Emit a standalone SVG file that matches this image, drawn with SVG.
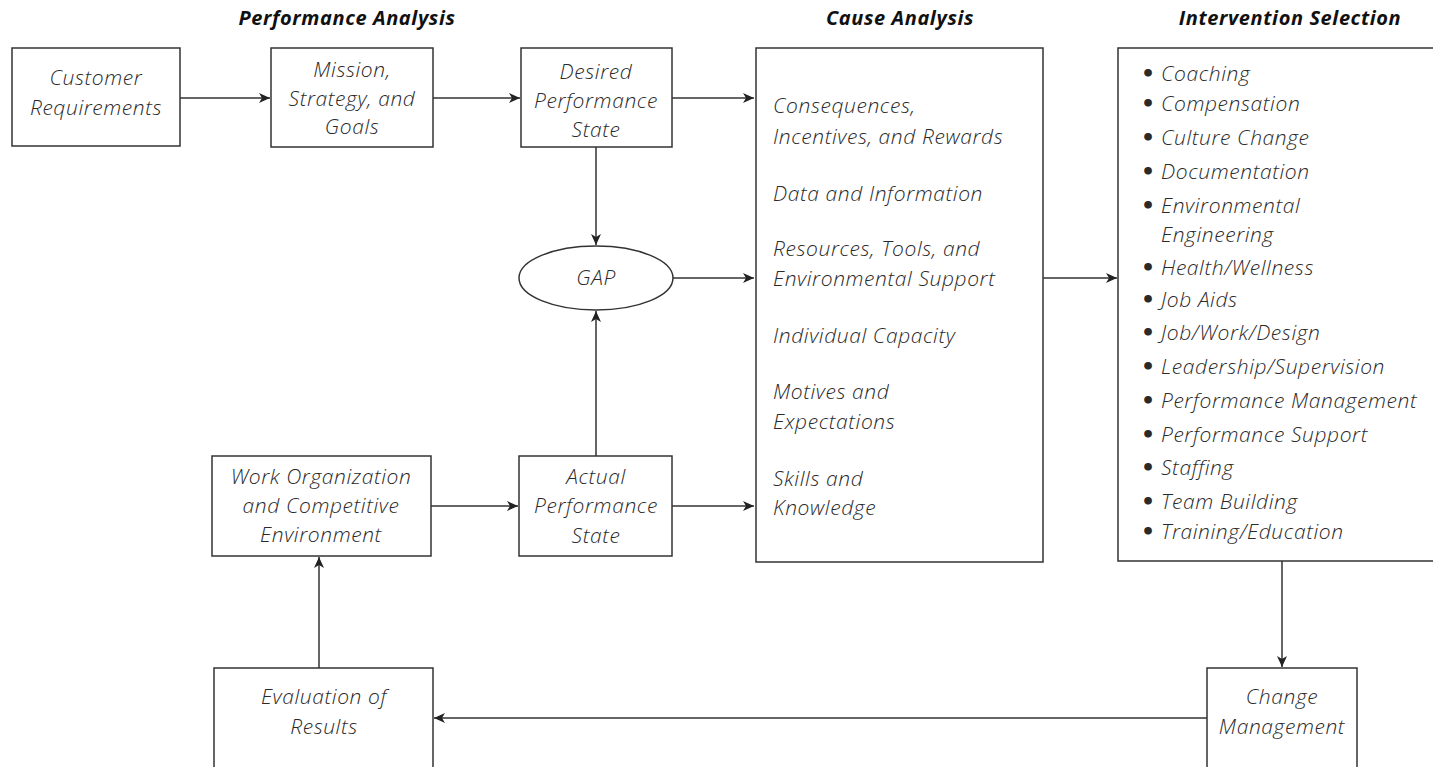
<svg xmlns="http://www.w3.org/2000/svg" width="1433" height="767" viewBox="0 0 1433 767">
<style>
.box{fill:#fff;stroke:#333;stroke-width:1.5}
.t{font-family:"Open Sans","Liberation Sans",sans-serif;font-style:italic;font-weight:300;font-size:21px;letter-spacing:0.6px;fill:#2a2a2a}
.c{text-anchor:middle}
.h{font-family:"Open Sans","Liberation Sans",sans-serif;font-style:italic;font-weight:bold;font-size:20px;letter-spacing:0.6px;fill:#111;text-anchor:middle}
.ln{stroke:#333;stroke-width:1.5;fill:none}
.arr{marker-end:url(#ah)}
.b{font-family:"DejaVu Sans",sans-serif;font-style:normal;font-weight:bold;font-size:22px}
</style>
<defs>
<marker id="ah" markerWidth="12" markerHeight="10" refX="11" refY="5" orient="auto" markerUnits="userSpaceOnUse">
<path d="M0,0 L11,5 L0,10 L3,5 Z" fill="#222"/>
</marker>
</defs>
<g id="titles">
<text class="h" x="347" y="25">Performance Analysis</text>
<text class="h" x="900" y="25">Cause Analysis</text>
<text class="h" x="1290" y="25">Intervention Selection</text>
</g>
<g id="connectors">
<line class="ln arr" x1="180" y1="98" x2="270" y2="98"/>
<line class="ln arr" x1="433" y1="98" x2="520" y2="98"/>
<line class="ln arr" x1="672" y1="98" x2="754" y2="98"/>
<line class="ln arr" x1="596" y1="147" x2="596" y2="245"/>
<line class="ln arr" x1="673" y1="278" x2="754" y2="278"/>
<line class="ln arr" x1="596" y1="456" x2="596" y2="311"/>
<line class="ln arr" x1="431" y1="506" x2="518" y2="506"/>
<line class="ln arr" x1="672" y1="506" x2="754" y2="506"/>
<line class="ln arr" x1="1043" y1="278" x2="1117" y2="278"/>
<line class="ln arr" x1="1282" y1="561" x2="1282" y2="667"/>
<line class="ln arr" x1="1207" y1="718" x2="434" y2="718"/>
<line class="ln arr" x1="319" y1="668" x2="319" y2="557"/>
</g>
<g id="customer">
<rect class="box" x="12" y="48" width="168" height="98"/>
<text class="t c" x="96" y="85">Customer</text>
<text class="t c" x="96" y="115">Requirements</text>
</g>
<g id="mission">
<rect class="box" x="271" y="48" width="162" height="99"/>
<text class="t c" x="352" y="77">Mission,</text>
<text class="t c" x="352" y="106">Strategy, and</text>
<text class="t c" x="352" y="134">Goals</text>
</g>
<g id="desired">
<rect class="box" x="521" y="48" width="151" height="99"/>
<text class="t c" x="596" y="79">Desired</text>
<text class="t c" x="596" y="108">Performance</text>
<text class="t c" x="596" y="137">State</text>
</g>
<g id="gap">
<ellipse class="box" cx="596" cy="278" rx="77" ry="32"/>
<text class="t c" x="596" y="285">GAP</text>
</g>
<g id="work-org">
<rect class="box" x="212" y="456" width="219" height="100"/>
<text class="t c" x="321" y="484">Work Organization</text>
<text class="t c" x="321" y="513">and Competitive</text>
<text class="t c" x="321" y="542">Environment</text>
</g>
<g id="actual">
<rect class="box" x="519" y="456" width="153" height="100"/>
<text class="t c" x="596" y="484">Actual</text>
<text class="t c" x="596" y="513">Performance</text>
<text class="t c" x="596" y="543">State</text>
</g>
<g id="cause">
<rect class="box" x="756" y="48" width="287" height="514"/>
<text class="t" x="773" y="113">Consequences,</text>
<text class="t" x="773" y="144">Incentives, and Rewards</text>
<text class="t" x="773" y="201">Data and Information</text>
<text class="t" x="773" y="256">Resources, Tools, and</text>
<text class="t" x="773" y="286">Environmental Support</text>
<text class="t" x="773" y="343">Individual Capacity</text>
<text class="t" x="773" y="399">Motives and</text>
<text class="t" x="773" y="429">Expectations</text>
<text class="t" x="773" y="486">Skills and</text>
<text class="t" x="773" y="515">Knowledge</text>
</g>
<g id="intervention">
<rect class="box" x="1118" y="48" width="320" height="513"/>
<g class="t">
<text x="1141" y="81"><tspan class="b">•</tspan><tspan x="1161">Coaching</tspan></text>
<text x="1141" y="111"><tspan class="b">•</tspan><tspan x="1161">Compensation</tspan></text>
<text x="1141" y="145"><tspan class="b">•</tspan><tspan x="1161">Culture Change</tspan></text>
<text x="1141" y="179"><tspan class="b">•</tspan><tspan x="1161">Documentation</tspan></text>
<text x="1141" y="213"><tspan class="b">•</tspan><tspan x="1161">Environmental</tspan></text>
<text x="1161" y="242">Engineering</text>
<text x="1141" y="275"><tspan class="b">•</tspan><tspan x="1161">Health/Wellness</tspan></text>
<text x="1141" y="307"><tspan class="b">•</tspan><tspan x="1161">Job Aids</tspan></text>
<text x="1141" y="340"><tspan class="b">•</tspan><tspan x="1161">Job/Work/Design</tspan></text>
<text x="1141" y="374"><tspan class="b">•</tspan><tspan x="1161">Leadership/Supervision</tspan></text>
<text x="1141" y="408"><tspan class="b">•</tspan><tspan x="1161">Performance Management</tspan></text>
<text x="1141" y="442"><tspan class="b">•</tspan><tspan x="1161">Performance Support</tspan></text>
<text x="1141" y="475"><tspan class="b">•</tspan><tspan x="1161">Staffing</tspan></text>
<text x="1141" y="509"><tspan class="b">•</tspan><tspan x="1161">Team Building</tspan></text>
<text x="1141" y="539"><tspan class="b">•</tspan><tspan x="1161">Training/Education</tspan></text>
</g>
</g>
<g id="change">
<rect class="box" x="1207" y="668" width="150" height="110"/>
<text class="t c" x="1282" y="704">Change</text>
<text class="t c" x="1282" y="734">Management</text>
</g>
<g id="evaluation">
<rect class="box" x="214" y="668" width="219" height="110"/>
<text class="t c" x="324" y="704">Evaluation of</text>
<text class="t c" x="324" y="734">Results</text>
</g>
</svg>
